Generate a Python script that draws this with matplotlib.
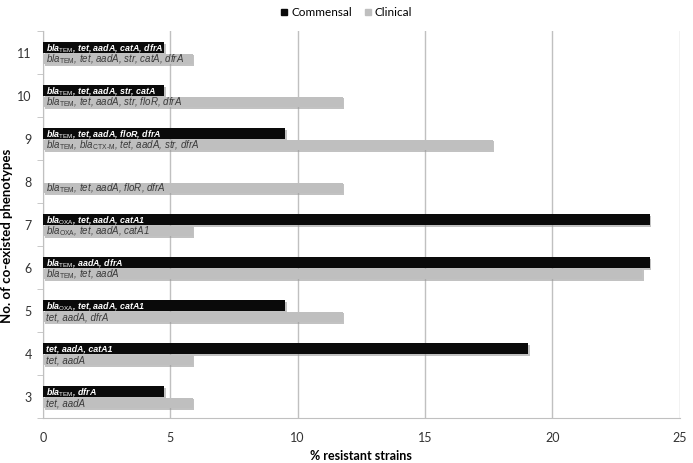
"""
Co-existing resistance phenotypes: commensal vs clinical strains.
"""

import matplotlib
matplotlib.use('Agg')
import matplotlib.pyplot as plt
import matplotlib.patheffects as pe
from matplotlib.lines import Line2D

plt.rcParams['mathtext.fontset'] = 'custom'
plt.rcParams['mathtext.rm'] = 'Liberation Sans'
plt.rcParams['mathtext.it'] = 'Liberation Sans:italic'

# Data
categories = [3, 4, 5, 6, 7, 8, 9, 10, 11]
commensal = [4.76, 19.05, 9.52, 23.81, 23.81, 0, 9.52, 4.76, 4.76]
clinical = [5.88, 5.88, 11.76, 23.53, 5.88, 11.76, 17.65, 11.76, 5.88]

commensal_labels = [
    r'bla$_{\mathrm{TEM}}$, dfrA',
    'tet, aadA, catA1',
    r'bla$_{\mathrm{OXA}}$, tet, aadA, catA1',
    r'bla$_{\mathrm{TEM}}$, aadA, dfrA',
    r'bla$_{\mathrm{OXA}}$, tet, aadA, catA1',
    '',
    r'bla$_{\mathrm{TEM}}$, tet, aadA, floR, dfrA',
    r'bla$_{\mathrm{TEM}}$, tet, aadA, str, catA',
    r'bla$_{\mathrm{TEM}}$, tet, aadA, catA, dfrA',
]
clinical_labels = [
    'tet, aadA',
    'tet, aadA',
    'tet, aadA, dfrA',
    r'bla$_{\mathrm{TEM}}$, tet, aadA',
    r'bla$_{\mathrm{OXA}}$, tet, aadA, catA1',
    r'bla$_{\mathrm{TEM}}$, tet, aadA, floR, dfrA',
    r'bla$_{\mathrm{TEM}}$, bla$_{\mathrm{CTX\text{-}M}}$, tet, aadA, str, dfrA',
    r'bla$_{\mathrm{TEM}}$, tet, aadA, str, floR, dfrA',
    r'bla$_{\mathrm{TEM}}$, tet, aadA, str, catA, dfrA',
]

black = '#0a0a0a'
gray = '#bfbfbf'
line_gray = '#c0c0c0'

fig = plt.figure(figsize=(6.93, 4.63), dpi=100)
ax = fig.add_axes([0.062, 0.097, 0.919, 0.836])

h = 0.25
shadow = [pe.SimplePatchShadow(offset=(1.2, -1.2), shadow_rgbFace='#9a9a9a', alpha=0.6), pe.Normal()]
y_com = [c + 0.115 for c in categories]
y_cli = [c - 0.15 for c in categories]
bars1 = ax.barh(y_com, commensal, height=h, color=black, zorder=3)
bars2 = ax.barh(y_cli, clinical, height=h, color=gray, zorder=3)
for b in list(bars1) + list(bars2):
    b.set_path_effects(shadow)

for y, lab in zip(y_com, commensal_labels):
    if lab:
        ax.text(0.1, y, lab, color='white', fontsize=6.4, fontstyle='italic',
                fontweight='bold', family='Liberation Sans', va='center', zorder=4)
for y, lab in zip(y_cli, clinical_labels):
    ax.text(0.1, y, lab, color='#3a3a3a', fontsize=7, fontstyle='italic',
            family='Liberation Sans', va='center', zorder=4)

ax.set_xlim(0, 25)
ax.set_ylim(2.5, 11.5)
ax.set_xticks([0, 5, 10, 15, 20, 25])
ax.set_yticks(categories)
ax.set_yticks([c + 0.5 for c in [2] + categories], minor=True)
ax.tick_params(axis='y', which='major', length=0, labelsize=9, pad=8, colors='#333333')
ax.tick_params(axis='y', which='minor', length=4, color=line_gray, direction='out')
ax.tick_params(axis='x', length=0, labelsize=9, pad=10, colors='#333333')
for lbl in ax.get_xticklabels() + ax.get_yticklabels():
    lbl.set_family('Lato')

ax.grid(axis='x', color=line_gray, linewidth=1, zorder=0)
for s in ['top', 'right']:
    ax.spines[s].set_visible(False)
for s in ['left', 'bottom']:
    ax.spines[s].set_color(line_gray)

ax.set_xlabel('% resistant strains', fontsize=9, fontweight='bold', family='Lato',
              labelpad=4, loc='center')
ax.set_ylabel('No. of co-existed phenotypes', fontsize=9.5, fontweight='bold',
              family='Lato')
ax.yaxis.set_label_coords(-0.047, 0.47)

handles = [Line2D([], [], marker='s', ls='', color=black, markersize=4.5),
           Line2D([], [], marker='s', ls='', color=gray, markersize=4.5)]
leg = fig.legend(handles, ['Commensal', 'Clinical'], loc='upper center',
                 bbox_to_anchor=(0.5, 1.0), ncol=2, frameon=False,
                 prop={'family': 'Lato', 'size': 8.5}, handlelength=0.6,
                 handletextpad=0.3, columnspacing=1.0, borderaxespad=0.2)

fig.savefig('out.png', dpi=100)
